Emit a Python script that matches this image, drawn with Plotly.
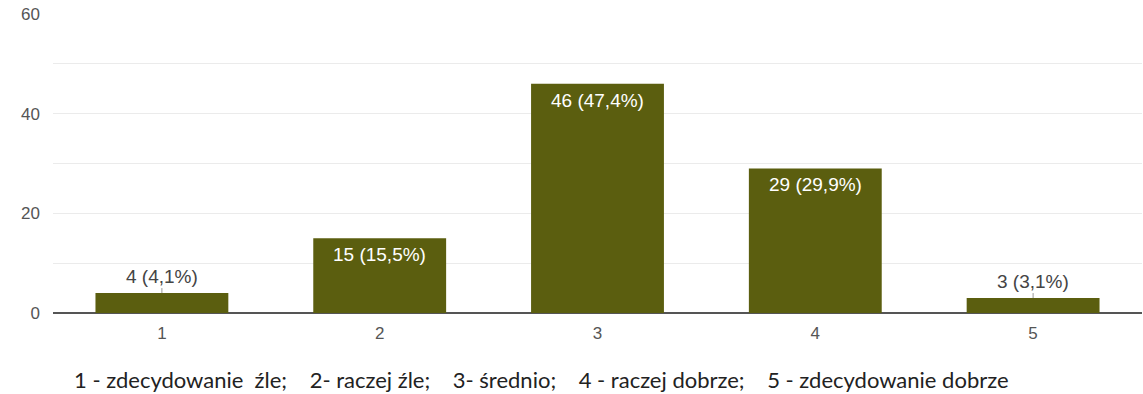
import plotly.graph_objects as go

categories = ["1", "2", "3", "4", "5"]
counts = [4, 15, 46, 29, 3]
percents = ["4,1%", "15,5%", "47,4%", "29,9%", "3,1%"]
y_ticks = [0, 20, 40, 60]
caption_parts = ["1 - zdecydowanie  źle;", "2- raczej źle;", "3- średnio;",
                 "4 - raczej dobrze;", "5 - zdecydowanie dobrze"]

labels = [f"{c} ({p})" for c, p in zip(counts, percents)]
caption = "\u00a0\u00a0\u00a0\u00a0".join(caption_parts).replace(" ", "\u00a0")

fig = go.Figure()
fig.add_trace(go.Bar(
    x=categories, y=counts,
    marker=dict(color="#5b5e0f", line=dict(width=0)),
    width=0.61, hoverinfo="skip",
))

for i, (c, lab) in enumerate(zip(counts, labels)):
    if c < 10:
        fig.add_annotation(
            x=i, y=c, text=lab, showarrow=True, arrowhead=0,
            arrowwidth=1, arrowcolor="#999999", ax=0, ay=-17, standoff=0,
            font=dict(color="#444444", size=19, family="Liberation Sans"),
        )
    else:
        fig.add_annotation(
            x=i, y=c, text=lab, showarrow=False, yanchor="top", yshift=-4,
            font=dict(color="white", size=19, family="Liberation Sans"),
        )

fig.add_annotation(
    x=0.0, y=0, xref="paper", yref="paper", xanchor="left", yanchor="top",
    text=caption, showarrow=False, yshift=-51, xshift=19,
    font=dict(color="#222222", size=22, family="Lato"),
)

fig.update_layout(
    width=1143, height=394,
    margin=dict(l=53, r=1, t=14, b=81),
    plot_bgcolor="white", paper_bgcolor="white",
    showlegend=False, bargap=0.39,
    font=dict(family="Liberation Sans", color="#555555", size=17),
)
fig.update_xaxes(
    type="category", range=[-0.5, 4.5], automargin=False,
    showgrid=False, showline=False, ticks="", ticklabelstandoff=8,
    tickfont=dict(size=17, color="#555555"),
)
fig.update_yaxes(
    range=[0, 60], tickvals=list(range(0, 61, 10)), automargin=False,
    ticktext=[str(v) if v in y_ticks else "" for v in range(0, 61, 10)],
    showgrid=True, gridcolor="#ebebeb", gridwidth=1,
    zeroline=True, zerolinecolor="#555555", zerolinewidth=2,
    tickfont=dict(size=17, color="#555555"), ticks="", ticklabelstandoff=12,
)

fig.write_html("out.html", config={"displayModeBar": False},
               post_script="document.body.style.margin='0px';")
